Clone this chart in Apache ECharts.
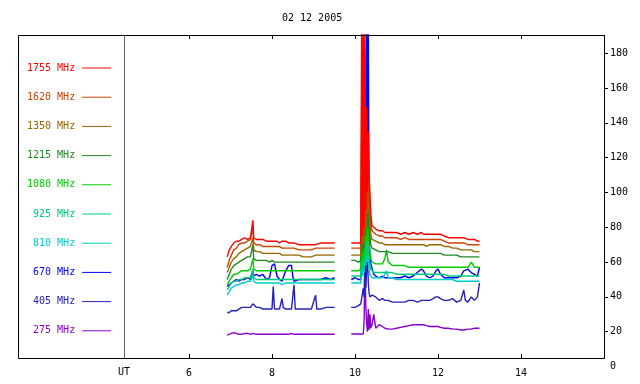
<!DOCTYPE html>
<html>
<head>
<meta charset="utf-8">
<script src="https://cdn.jsdelivr.net/npm/echarts@6/dist/echarts.min.js"></script>
<style>html,body{margin:0;padding:0;background:#fff;}#c{width:640px;height:384px;}</style>
</head>
<body>
<div id="c"></div>
<script>
// Time (UT hours); null value at 9.7 marks the data gap
const TIME = [6.92,6.97,7.02,7.08,7.14,7.2,7.27,7.34,7.41,7.48,7.52,7.54,7.56,7.62,7.7,7.78,7.86,7.94,8.0,8.03,8.06,8.12,8.18,8.24,8.27,8.33,8.4,8.47,8.5,8.53,8.56,8.65,8.75,8.85,8.95,9.05,9.08,9.18,9.3,9.4,9.51,
  9.7,
  9.91,10.0,10.08,10.14,10.16,10.18,10.2,10.22,10.24,10.26,10.28,10.3,10.32,10.34,10.36,10.38,10.41,10.45,10.5,10.58,10.66,10.72,10.76,10.8,10.9,11.0,11.1,11.2,11.3,11.4,11.5,11.6,11.65,11.72,11.8,11.88,11.95,12.0,12.06,12.15,12.25,12.35,12.45,12.55,12.62,12.66,12.72,12.8,12.88,12.95,13.0];

const F1755 = [63,67,69,71,72,72,73,74,73,74,75,84,74,73,73,73,72,72,72,72,72,72,71,72,71,72,71,71,71,71,70,70,70,70,70,70,70,71,71,71,71,
  null,
  71,71,71,71,200,75,200,80,200,90,149,100,135,110,100,88,81,80,79,78,78,77,77,77,77,77,76,77,76,77,76,77,76,76,76,76,76,76,76,75,74,74,74,74,74,73,73,73,73,72,72];
const F1620 = [57,61,64,67,68,70,71,71,72,73,72,80,71,70,70,69,69,69,69,69,69,69,69,68,69,68,68,68,68,68,68,67,67,67,67,68,68,68,68,68,68,
  null,
  68,68,68,68,150,75,190,78,180,85,130,95,115,100,90,82,78,77,76,75,75,74,74,74,74,74,73,74,73,73,73,73,73,73,73,73,73,73,73,72,71,71,71,71,71,70,70,70,70,70,70];
const F1350 = [54,57,60,62,63,65,66,67,68,69,68,74,67,66,66,65,65,65,65,65,65,65,65,64,65,64,64,64,64,64,64,64,63,63,63,64,64,64,64,64,64,
  null,
  64,64,64,64,130,70,170,72,160,80,120,88,100,90,82,76,73,72,72,71,71,70,70,70,70,70,70,70,70,70,70,70,70,69,70,70,70,70,70,69,69,68,68,67,67,67,67,67,66,66,66];
const F1215 = [50,53,56,58,59,60,61,62,63,63,63,70,62,61,61,61,61,60,61,60,60,60,60,60,60,60,60,60,60,60,60,60,60,60,60,60,60,60,60,60,60,
  null,
  61,61,60,61,110,66,160,68,150,75,110,80,90,80,75,70,68,67,67,66,66,66,66,66,65,65,65,65,65,65,65,65,65,65,65,65,65,65,65,64,64,64,64,63,63,63,63,63,63,63,63];
const F1080 = [47,49,51,53,53,54,55,55,55,56,56,62,56,55,55,55,55,55,55,55,55,55,55,55,55,55,55,55,55,55,55,55,55,55,55,55,55,55,55,55,55,
  null,
  55,55,55,56,100,60,155,62,140,70,100,72,80,70,66,62,60,60,59,59,59,62,67,60,58,58,58,58,57,57,57,57,57,57,57,57,57,57,57,57,57,57,57,57,57,57,57,60,57,57,57];
const F925 = [44,46,48,49,49,50,50,51,51,51,51,56,51,50,50,50,50,50,50,50,50,50,50,50,50,50,50,50,50,50,50,50,50,50,50,50,50,50,50,50,50,
  null,
  52,52,52,52,90,56,141,58,120,62,85,65,70,62,58,56,55,54,54,54,54,54,55,54,54,53,53,53,53,53,53,53,53,53,53,53,53,53,53,53,52,52,52,52,52,52,52,52,52,52,52];
const F810 = [41,43,45,46,47,47,48,48,49,49,49,52,49,48,48,48,48,48,48,48,48,48,48,47,48,48,48,48,48,48,48,48,48,48,48,48,48,48,48,48,48,
  null,
  48,48,48,48,80,52,130,54,100,58,75,60,62,56,53,52,51,51,51,51,51,53,55,51,51,50,50,50,50,50,50,50,50,50,50,50,50,50,50,50,50,50,49,49,49,49,49,49,49,49,49];
const F670 = [46,47,48,49,50,49,50,50,51,50,51,55,52,53,52,53,50,51,58,59,59,52,50,49,51,55,58,58,52,49,50,50,50,50,50,50,50,50,51,50,51,
  null,
  50,51,50,50,60,52,90,55,110,70,200,120,200,75,62,59,59,53,52,51,52,51,52,51,51,51,51,52,51,52,54,56,55,52,51,52,55,56,53,51,51,51,51,52,55,56,56,54,53,52,57];
const F405 = [31,31,32,32,32,33,34,34,34,34,35,36,35,34,34,33,33,33,33,46,33,33,33,39,34,33,33,33,33,47,33,33,33,33,33,41,33,33,34,34,34,
  null,
  34,34,35,36,36,36,45,40,62,45,55,67,48,42,40,41,41,40,40,38,39,38,38,38,37,37,37,37,38,38,37,38,38,38,38,39,40,40,39,38,38,39,37,38,44,38,37,40,38,40,48];
const F275 = [18,18.5,19,19.5,19,18.5,18.5,19,19,18.5,18.5,19,18.5,18.5,18.5,18.5,18.5,18.5,18.5,18.5,18.5,18.5,18.5,18.5,18.5,18.5,18.5,19,18.5,18.5,18.5,18.5,18.5,18.5,18.5,18.5,18.5,18.5,18.5,18.5,18.5,
  null,
  18.7,18.7,18.7,18.7,18.7,18.7,18.7,27,61,35,25,20,33,21,30,22,24,30,22,24,23,22,22,21.5,21.5,22,22.5,23,23.5,24,24,24,24,23.5,23,23,23,23,22.5,22,22,21.5,21.5,21,21,21,21.5,21.5,22,22,22];

const NAMES = ['1755 MHz','1620 MHz','1350 MHz','1215 MHz','1080 MHz','925 MHz','810 MHz','670 MHz','405 MHz','275 MHz'];
const VALUES = [F1755,F1620,F1350,F1215,F1080,F925,F810,F670,F405,F275];
const COLORS = ['#ff0000','#cc4400','#996600','#228822','#00cc00','#00cc77','#00cccc','#0000ff','#2222bb','#8800cc'];
const X_MIN = 6, X_MAX = 16, X_STEP = 2;
const X_TICKS = [6,8,10,12,14];
const Y_TICKS = [20,40,60,80,100,120,140,160,180];
const Y_LABELS = [0,20,40,60,80,100,120,140,160,180];
const TITLE = '02 12 2005';
const X_NAME = 'UT';

const FONT = 'DejaVu Sans Mono';

const series = [];
for (let k = NAMES.length - 1; k >= 0; k--) {
  series.push({
    name: NAMES[k],
    type: 'line',
    xAxisIndex: 0,
    yAxisIndex: 0,
    showSymbol: false,
    symbol: 'none',
    connectNulls: false,
    clip: true,
    color: COLORS[k],
    lineStyle: { width: 1.4, color: COLORS[k] },
    emphasis: { disabled: true },
    data: TIME.map((t, i) => [t, VALUES[k][i] === null ? '-' : VALUES[k][i]])
  });
}

const FRAME = { left: 18, top: 35, right: 604, bottom: 358, sep: 124 };

const chart = echarts.init(document.getElementById('c'), null, { renderer: 'canvas' });
chart.setOption({
  animation: false,
  backgroundColor: '#ffffff',
  title: {
    text: TITLE, left: 282, top: 13, padding: 0,
    textStyle: { fontFamily: FONT, fontSize: 10, fontWeight: 'normal', color: '#000' }
  },
  legend: {
    orient: 'vertical', left: 22, top: 57, itemGap: 17.2,
    align: 'right', icon: 'rect', itemWidth: 29, itemHeight: 1,
    selectedMode: false,
    formatter: n => n.padStart(8, ' '),
    textStyle: { fontFamily: FONT, fontSize: 10, lineHeight: 12, padding: [0, 2, 0, 0] },
    data: NAMES.map((n, i) => ({ name: n, textStyle: { color: COLORS[i] }, itemStyle: { color: COLORS[i] } }))
  },
  grid: { left: 189, right: 36, top: 35, bottom: 17.5, containLabel: false },
  xAxis: [{
    type: 'value', position: 'bottom', min: X_MIN, max: X_MAX, interval: X_STEP, offset: -8.5,
    axisLine: { show: true, onZero: false, lineStyle: { color: '#000', width: 1 } },
    splitLine: { show: false },
    axisTick: { show: true, inside: false, length: -4, lineStyle: { color: '#000', width: 1 } },
    axisLabel: { margin: 10, fontFamily: FONT, fontSize: 10, color: '#000', showMaxLabel: false }
  }, {
    type: 'value', position: 'top', min: X_MIN, max: X_MAX, interval: X_STEP,
    axisLine: { show: true, onZero: false, lineStyle: { color: '#000', width: 1 } },
    splitLine: { show: false },
    axisTick: { show: true, inside: false, length: -3, lineStyle: { color: '#000', width: 1 } },
    axisLabel: { show: false }
  }],
  yAxis: {
    type: 'value', position: 'right', min: 0, max: 190.5,
    axisLine: { show: false, onZero: false },
    splitLine: { show: false },
    axisTick: { show: true, inside: false, length: 4, customValues: Y_TICKS, lineStyle: { color: '#000' } },
    axisLabel: { customValues: Y_LABELS, margin: 6, padding: [6, 0, 0, 0], fontFamily: FONT, fontSize: 10, color: '#000' }
  },
  series: series
});

// frame, separator, UT label and x tick marks (tick positions from the library's x scale)
const gfx = [
  { type: 'rect', id: 'frame', silent: true, z: 10,
    shape: { x: FRAME.left + 0.5, y: FRAME.top + 0.5, width: FRAME.right - FRAME.left, height: FRAME.bottom - FRAME.top },
    style: { fill: 'none', stroke: '#000', lineWidth: 1 } },
  { type: 'line', id: 'sep', silent: true, z: 10,
    shape: { x1: FRAME.sep + 0.5, y1: FRAME.top, x2: FRAME.sep + 0.5, y2: FRAME.bottom },
    style: { stroke: '#666', lineWidth: 1 } },
  { type: 'text', id: 'ut', silent: true, z: 10, x: FRAME.sep, y: 372,
    style: { text: X_NAME, fontFamily: FONT, fontSize: 10, fill: '#000', align: 'center', verticalAlign: 'middle' } }
];
X_TICKS.forEach((v, i) => {
  const px = Math.round(chart.convertToPixel({ xAxisIndex: 0 }, v)) + 0.5;
  gfx.push({ type: 'line', id: 'tb' + i, silent: true, z: 10,
    shape: { x1: px, y1: FRAME.bottom - 4, x2: px, y2: FRAME.bottom }, style: { stroke: '#000', lineWidth: 1 } });
  gfx.push({ type: 'line', id: 'tt' + i, silent: true, z: 10,
    shape: { x1: px, y1: FRAME.top, x2: px, y2: FRAME.top + 4 }, style: { stroke: '#000', lineWidth: 1 } });
});
chart.setOption({ graphic: gfx });
</script>
</body>
</html>
